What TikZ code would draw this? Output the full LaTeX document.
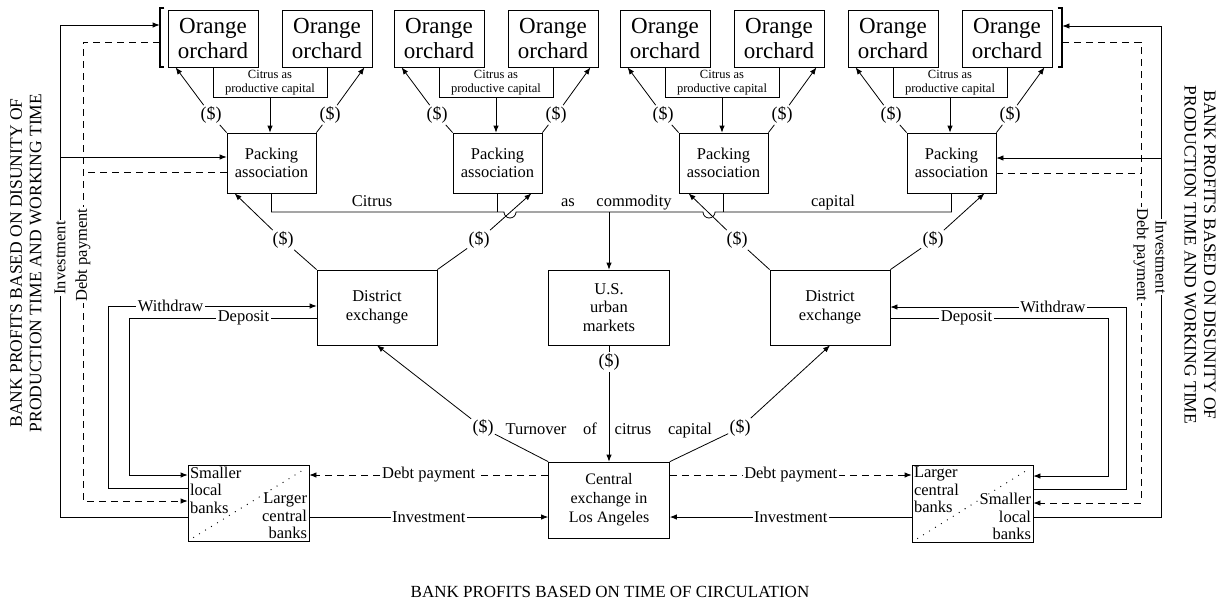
\documentclass[tikz,border=0pt]{standalone}
\usepackage{fontspec}
\setmainfont{Liberation Serif}
\usetikzlibrary{arrows.meta}
\begin{document}
\begin{tikzpicture}[x=1pt,y=-1pt,line width=0.8pt,
  arr/.style={-{Latex[length=7pt,width=5.5pt]}},
  dsh/.style={dash pattern=on 7pt off 5pt},
  orch/.style={draw,minimum width=90pt,minimum height=57pt,inner sep=0pt,align=center,font=\fontsize{23}{25}\selectfont},
  pack/.style={draw,minimum width=89pt,minimum height=60pt,inner sep=0pt,align=center,font=\fontsize{16.5}{18}\selectfont},
  midbox/.style={draw,minimum width=121pt,minimum height=75pt,inner sep=0pt,align=center,font=\fontsize{16.5}{18.5}\selectfont},
  bank/.style={draw,minimum width=121pt,minimum height=76pt,inner sep=0pt},
  banktxt/.style={inner sep=1pt,font=\fontsize{16.5}{17.5}\selectfont},
  lab/.style={fill=white,inner xsep=1.5pt,inner ysep=0.5pt,font=\fontsize{16.5}{18}\selectfont},
  wrd/.style={inner sep=0pt,anchor=base,font=\fontsize{16.5}{18}\selectfont},
  dol/.style={inner sep=1pt,font=\fontsize{18}{20}\selectfont},
  ttl/.style={align=center,inner sep=0pt,font=\fontsize{17.5}{19.5}\selectfont}
]
\fill[white] (0,0) rectangle (1225,603);
\useasboundingbox (0,0) rectangle (1225,603);

% ---------- four orchard groups ----------
\foreach \g/\dx in {1/0,2/226,3/452,4/680}{
  \begin{scope}[xshift=\dx pt]
    \node[orch] (oA\g) at (213,38.5) {Orange\\orchard};
    \node[orch] (oB\g) at (327,38.5) {Orange\\orchard};
    \node[pack] (pk\g) at (271.5,163) {Packing\\association};
    \draw (oA\g.south) -- ++(0,30) -| (oB\g.south);
    \node[inner sep=0pt,align=center,font=\fontsize{12.5}{14}\selectfont] (cb\g) at (270,83) {Citrus as\\productive capital};
    \coordinate (cc\g) at (270,97);
    \draw[arr] (cc\g) -- (cc\g |- pk\g.north);
    \node[dol] (dl\g) at (211,115) {(\$)};
    \node[dol] (dr\g) at (330,115) {(\$)};
    \draw (pk\g.north west) -- (dl\g);
    \draw[arr] (dl\g) -- ([xshift=8pt]oA\g.south west);
    \draw (pk\g.north east) -- (dr\g);
    \draw[arr] (dr\g) -- ([xshift=-8pt]oB\g.south east);
  \end{scope}
}

% brackets
\node[inner sep=0pt,minimum width=4pt,minimum height=59pt] (brL) at (162,37.5) {};
\draw[line width=2pt] (brL.north east) -- (brL.north west) -- (brL.south west) -- (brL.south east);
\node[inner sep=0pt,minimum width=4pt,minimum height=59pt] (brR) at (1060,37.5) {};
\draw[line width=2pt] (brR.north west) -- (brR.north east) -- (brR.south east) -- (brR.south west);

% ---------- middle boxes ----------
\node[midbox,minimum width=120pt] (de1) at (377,307.5) {District\\exchange};
\node[midbox,minimum width=120pt] (de2) at (830,307.5) {District\\exchange};
\node[midbox] (us) at (609,307.5) {U.S.\\urban\\markets};
\node[midbox,minimum height=76pt,font=\fontsize{16}{19}\selectfont] (ce) at (609,500) {Central\\exchange in\\Los Angeles};

% ---------- citrus as commodity capital ----------
\draw (pk1.south) |- (504,212) arc[start angle=180,end angle=0,radius=6]
  -- (703,212) arc[start angle=180,end angle=0,radius=6] -- (pk4.south |- 0,212) -- (pk4.south);
\draw (pk2.south) -- (pk2.south |- 0,212);
\draw (pk3.south) -- (pk3.south |- 0,212);
\draw[arr] (us.north |- 0,212) -- (us.north);
\node[wrd] (w1) at (372,206) {Citrus};
\node[wrd] (w2) at (568,206) {as};
\node[wrd] (w3) at (634,206) {commodity};
\node[wrd] (w4) at (833,206) {capital};

% district -> packing
\node[dol] (dd1) at (283,240) {(\$)};
\node[dol] (dd2) at (479,240) {(\$)};
\node[dol] (dd3) at (737,240) {(\$)};
\node[dol] (dd4) at (933,240) {(\$)};
\draw (de1.north west) -- (dd1); \draw[arr] (dd1) -- ([xshift=8pt]pk1.south west);
\draw (de1.north east) -- (dd2); \draw[arr] (dd2) -- ([xshift=-11pt]pk2.south east);
\draw (de2.north west) -- (dd3); \draw[arr] (dd3) -- ([xshift=10pt]pk3.south west);
\draw (de2.north east) -- (dd4); \draw[arr] (dd4) -- ([xshift=-12pt]pk4.south east);

% ---------- turnover ----------
\node[dol] (ud) at (609,362) {(\$)};
\draw (us.south) -- (ud);
\draw[arr] (ud) -- (ce.north);
\node[dol] (tl) at (483,428) {(\$)};
\node[dol] (tr) at (740,428) {(\$)};
\node[wrd] (t1) at (536,434) {Turnover};
\node[wrd] (t2) at (590,434) {of};
\node[wrd] (t3) at (633,434) {citrus};
\node[wrd] (t4) at (690,434) {capital};
\draw (ce.north west) -- (tl); \draw[arr] (tl) -- (de1.south);
\draw (ce.north east) -- (tr); \draw[arr] (tr) -- (de2.south);

% ---------- banks ----------
\node[bank] (bk1) at (248.5,503) {};
\draw[line width=1.3pt,line cap=round,dash pattern=on 0pt off 7pt] ([shift={(6,-4)}]bk1.south west) -- ([shift={(-4,4)}]bk1.north east);
\node[banktxt,anchor=north west,align=left] (s1) at ([shift={(1,1)}]bk1.north west) {Smaller\\local\\banks};
\node[banktxt,anchor=south east,align=right] (l1) at ([shift={(-1,-1)}]bk1.south east) {Larger\\central\\banks};

\node[bank,minimum height=77pt] (bk2) at (972.5,503.5) {};
\draw[line width=1.3pt,line cap=round,dash pattern=on 0pt off 7pt] ([shift={(6,-4)}]bk2.south west) -- ([shift={(-4,4)}]bk2.north east);
\node[banktxt,anchor=north west,align=left] (l2) at ([shift={(1,1)}]bk2.north west) {Larger\\central\\banks};
\node[banktxt,anchor=south east,align=right] (s2) at ([shift={(-1,-1)}]bk2.south east) {Smaller\\local\\banks};

% central <-> banks
\draw[arr,dsh] (ce.west |- 0,475) -- node[lab]{Debt payment} (bk1.east |- 0,475);
\draw[arr] (bk1.east |- 0,517) -- node[lab]{Investment} (ce.west |- 0,517);
\draw[arr,dsh] (ce.east |- 0,475) -- node[lab]{Debt payment} (bk2.west |- 0,475);
\draw[arr] (bk2.west |- 0,517) -- node[lab]{Investment} (ce.east |- 0,517);

% ---------- left outer loops ----------
\draw[arr] (bk1.west |- 0,488) -- (108,488) -- (108,306) -- node[lab,pos=0.3]{Withdraw} (de1.west |- 0,306);
\draw[arr] (de1.west |- 0,318) -- node[lab,pos=0.39]{Deposit} (129,318) -- (129,475) -- (bk1.west |- 0,475);
\draw[arr] (bk1.west |- 0,517) -- (60,517) -- (60,25) -- (brL.west |- 0,25);
\draw[arr] (60,157) -- (pk1.west |- 0,157);
\draw[arr,dsh] (brL.west |- 0,42) -- (83,42) -- (83,501) -- (bk1.west |- 0,501);
\draw[dsh] (pk1.west |- 0,172) -- (83,172);
\node[lab,rotate=90] (il) at (60,258) {Investment};
\node[lab,rotate=90] (dpl) at (83,255) {Debt payment};

% ---------- right outer loops ----------
\draw[arr] (bk2.east |- 0,489) -- (1126,489) -- (1126,307) -- node[lab,pos=0.31]{Withdraw} (de2.east |- 0,307);
\draw[arr] (de2.east |- 0,318) -- node[lab,pos=0.35]{Deposit} (1108,318) -- (1108,476) -- (bk2.east |- 0,476);
\draw[arr] (bk2.east |- 0,517) -- (1161,517) -- (1161,26) -- (brR.east |- 0,26);
\draw[arr] (1161,158) -- (pk4.east |- 0,158);
\draw[arr,dsh] (brR.east |- 0,42) -- (1141,42) -- (1141,503) -- (bk2.east |- 0,503);
\draw[dsh] (pk4.east |- 0,173) -- (1141,173);
\node[lab,rotate=-90] (ir) at (1161,257) {Investment};
\node[lab,rotate=-90] (dpr) at (1141,255) {Debt payment};

% ---------- titles ----------
\node[ttl,rotate=90] (tL) at (26,263) {BANK PROFITS BASED ON DISUNITY OF\\PRODUCTION TIME AND WORKING TIME};
\node[ttl,rotate=-90] (tR) at (1200,255) {BANK PROFITS BASED ON DISUNITY OF\\PRODUCTION TIME AND WORKING TIME};
\node[inner sep=0pt,font=\fontsize{17}{19}\selectfont] (tB) at (610,592) {BANK PROFITS BASED ON TIME OF CIRCULATION};
\end{tikzpicture}
\end{document}
